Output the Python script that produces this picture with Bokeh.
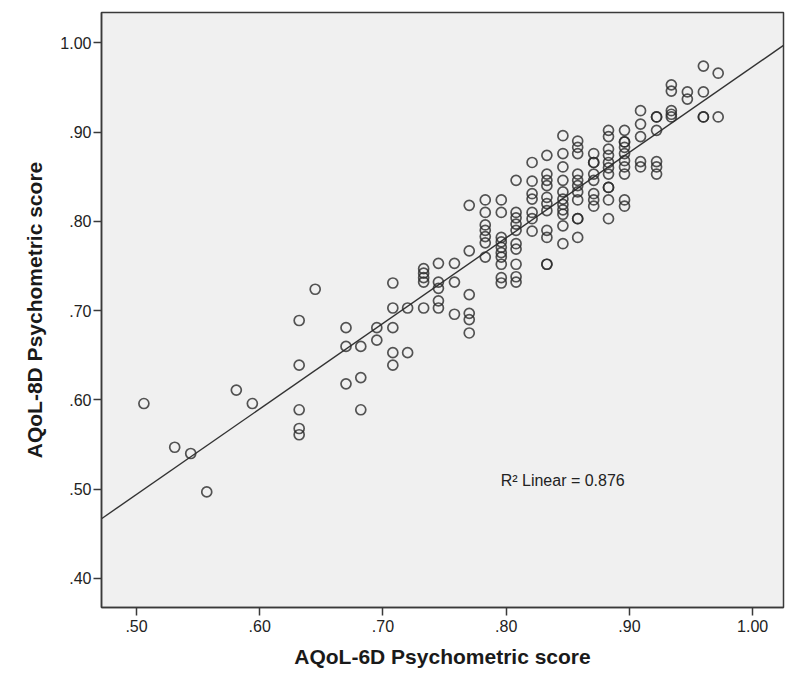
import numpy as np
from bokeh.plotting import figure
from bokeh.models import FixedTicker, Label, BoxAnnotation
from bokeh.embed import file_html
from bokeh.resources import INLINE

# ---- data ----
x_ticks = [0.5, 0.6, 0.7, 0.8, 0.9, 1.0]
x_tick_labels = [".50", ".60", ".70", ".80", ".90", "1.00"]
y_ticks = [0.4, 0.5, 0.6, 0.7, 0.8, 0.9, 1.0]
y_tick_labels = [".40", ".50", ".60", ".70", ".80", ".90", "1.00"]

x_title = "AQoL-6D Psychometric score"
y_title = "AQoL-8D Psychometric score"
r2_text = "R\u00b2 Linear = 0.876"

aqol6d = (
    [0.506, 0.531, 0.544, 0.557, 0.581, 0.594]
    + [0.632] * 5 + [0.645] + [0.670] * 3 + [0.682] * 3 + [0.695] * 2
    + [0.708] * 5 + [0.720] * 2 + [0.733] * 5 + [0.745] * 5 + [0.758] * 3
    + [0.770] * 6 + [0.783] * 7 + [0.796] * 10 + [0.808] * 10 + [0.821] * 7
    + [0.833] * 11 + [0.846] * 11 + [0.858] * 11 + [0.871] * 8 + [0.883] * 11
    + [0.896] * 10 + [0.909] * 5 + [0.922] * 6 + [0.934] * 5 + [0.947] * 2
    + [0.960] * 4 + [0.972] * 2
)
aqol8d = [
    0.596, 0.547, 0.540, 0.497, 0.611, 0.596,
    0.689, 0.639, 0.589, 0.568, 0.561,
    0.724,
    0.681, 0.660, 0.618,
    0.660, 0.625, 0.589,
    0.681, 0.667,
    0.731, 0.703, 0.681, 0.653, 0.639,
    0.703, 0.653,
    0.747, 0.742, 0.737, 0.732, 0.703,
    0.753, 0.732, 0.725, 0.711, 0.703,
    0.753, 0.732, 0.696,
    0.818, 0.767, 0.718, 0.697, 0.690, 0.675,
    0.824, 0.810, 0.796, 0.790, 0.783, 0.776, 0.760,
    0.824, 0.810, 0.782, 0.777, 0.771, 0.765, 0.760, 0.752, 0.737, 0.731,
    0.846, 0.810, 0.804, 0.797, 0.790, 0.775, 0.769, 0.752, 0.738, 0.732,
    0.866, 0.845, 0.831, 0.825, 0.810, 0.803, 0.789,
    0.874, 0.853, 0.846, 0.840, 0.827, 0.820, 0.812, 0.790, 0.782, 0.752, 0.752,
    0.896, 0.876, 0.861, 0.846, 0.833, 0.825, 0.819, 0.813, 0.808, 0.795, 0.775,
    0.890, 0.883, 0.876, 0.853, 0.846, 0.840, 0.833, 0.824, 0.803, 0.803, 0.782,
    0.876, 0.866, 0.866, 0.853, 0.846, 0.831, 0.824, 0.817,
    0.902, 0.895, 0.881, 0.874, 0.866, 0.860, 0.853, 0.838, 0.838, 0.824, 0.803,
    0.902, 0.889, 0.889, 0.883, 0.876, 0.868, 0.861, 0.853, 0.824, 0.817,
    0.924, 0.909, 0.895, 0.867, 0.861,
    0.917, 0.917, 0.902, 0.867, 0.861, 0.853,
    0.953, 0.946, 0.924, 0.920, 0.917,
    0.945, 0.937,
    0.974, 0.945, 0.917, 0.917,
    0.966, 0.917,
]

# ---- figure ----
x_lo, x_hi = 0.4716, 1.025
y_lo, y_hi = 0.3675, 1.034
W, H = 808, 689

p = figure(width=W, height=H, x_range=(x_lo, x_hi), y_range=(y_lo, y_hi),
           output_backend="svg", toolbar_location=None,
           min_border_left=101, min_border_right=25,
           min_border_top=12, min_border_bottom=82)

p.background_fill_color = "#f0f0f0"
p.border_fill_color = "white"
p.outline_line_color = "#3a3a3a"
p.outline_line_width = 1.5
p.xgrid.visible = False
p.ygrid.visible = False

font = "Liberation Sans"
for ax, ticks, labels, title in ((p.xaxis[0], x_ticks, x_tick_labels, x_title),
                                  (p.yaxis[0], y_ticks, y_tick_labels, y_title)):
    ax.ticker = FixedTicker(ticks=ticks)
    ax.major_label_overrides = dict(zip(ticks, labels))
    ax.axis_label = title
    ax.axis_label_text_font = font
    ax.axis_label_text_font_style = "bold"
    ax.axis_label_text_font_size = "21px"
    ax.axis_label_text_color = "#1a1a1a"
    ax.major_label_text_font = font
    ax.major_label_text_font_size = "16px"
    ax.major_label_text_color = "#222222"
    ax.axis_line_color = "#3a3a3a"
    ax.axis_line_width = 1.5
    ax.major_tick_line_color = "#3a3a3a"
    ax.major_tick_line_width = 1.5
    ax.major_tick_out = 8
    ax.major_tick_in = 0
    ax.minor_tick_line_color = None

p.xaxis.major_label_standoff = 4
p.xaxis.axis_label_standoff = 10
p.yaxis.major_label_standoff = 2
p.yaxis.axis_label_standoff = 11

# thin light-grey border around the whole picture
p.add_layout(BoxAnnotation(left=2.5, right=W - 2.5, top=2.5, bottom=H - 2.5,
                           left_units="canvas", right_units="canvas",
                           top_units="canvas", bottom_units="canvas",
                           fill_color=None, fill_alpha=0,
                           line_color="#c8c8c8", line_width=1))

# regression line from the data
xa = np.array(aqol6d)
ya = np.array(aqol8d)
slope, intercept = np.polyfit(xa, ya, 1)
fit_x = [x_lo, x_hi]
fit_y = [intercept + slope * v for v in fit_x]
p.line(fit_x, fit_y, line_color="#333333", line_width=1.4)

p.scatter(aqol6d, aqol8d, marker="circle", size=10, fill_color=None,
          line_color="#2a2a2a", line_width=1.7, line_alpha=0.8)

p.add_layout(Label(x=0.7955, y=0.51, text=r2_text, text_font=font,
                   text_font_size="16px", text_color="#222222",
                   text_baseline="middle", text_align="left"))

open("out.html", "w").write(file_html(p, INLINE))
